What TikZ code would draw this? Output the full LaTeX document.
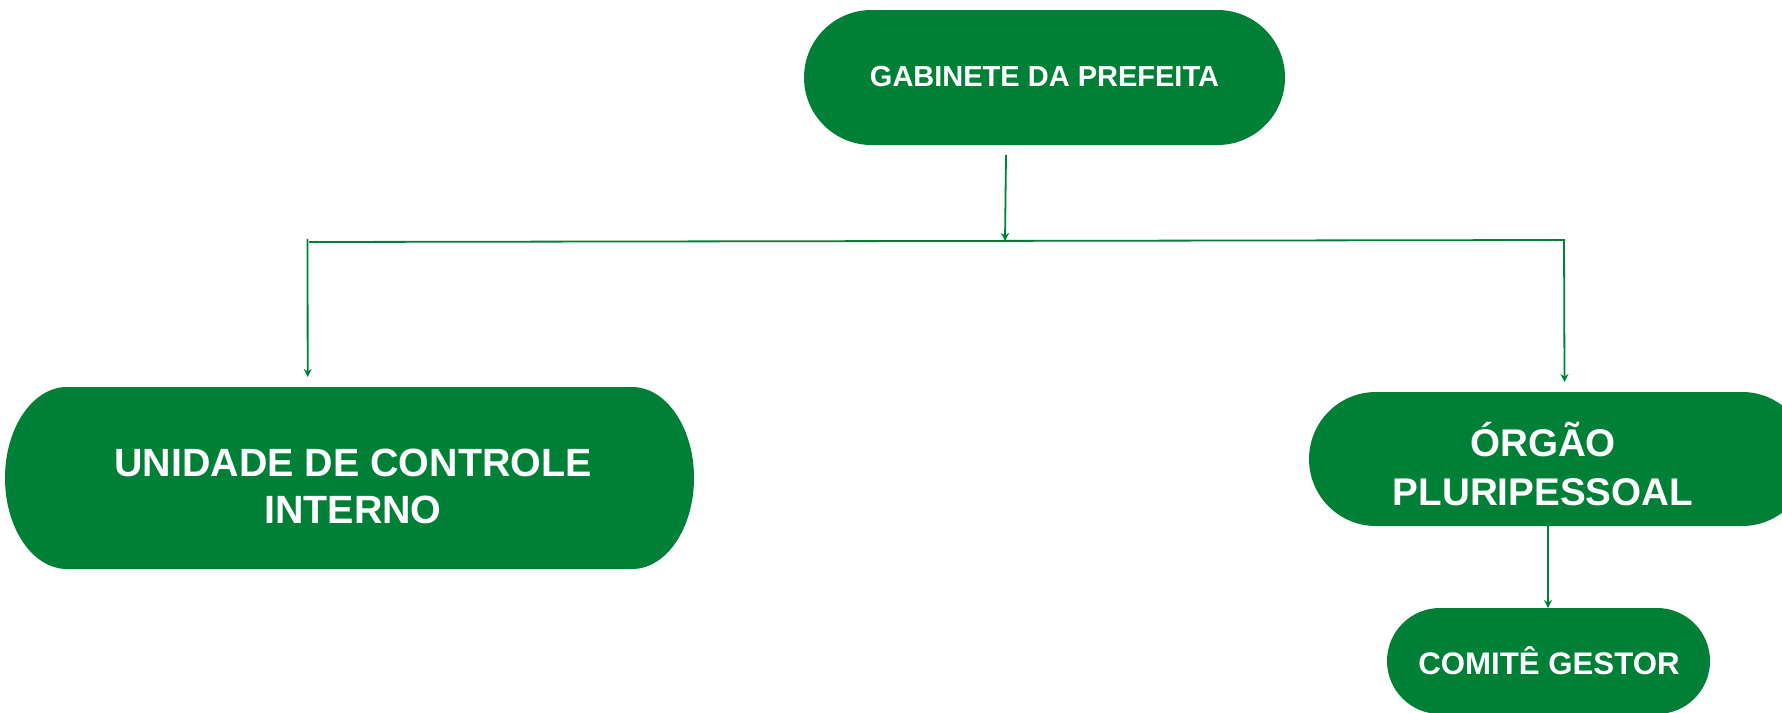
\documentclass[tikz,border=0pt]{standalone}
\usepackage{fontspec}
\setmainfont{Liberation Sans}
\usetikzlibrary{arrows.meta}
\definecolor{govgreen}{RGB}{0,128,55}
\tikzset{
  pill/.style={fill=govgreen, inner sep=0pt, outer sep=0pt},
  lbl/.style={text=white, align=center, inner sep=0pt},
  conn/.style={draw=govgreen, line width=1.8pt},
  arr/.style={conn, -{Stealth[length=8pt,width=8pt]}}
}
\begin{document}
\begin{tikzpicture}[x=1pt,y=-1pt]
\useasboundingbox (0,0) rectangle (1782,712);
\begin{scope}
\clip (0,0) rectangle (1782,712);
% shapes
\node[pill, rounded corners=67.5pt, minimum width=481pt, minimum height=135pt] (gab) at (1044.5,77.5) {};
\fill[govgreen] (67,387) -- (632,387)
  arc[x radius=62pt, y radius=91pt, start angle=90, end angle=-90]
  -- (67,569)
  arc[x radius=62pt, y radius=91pt, start angle=270, end angle=90] -- cycle;
\node[inner sep=0pt, outer sep=0pt, minimum width=689pt, minimum height=182pt] (uci) at (349.5,478) {};
\node[pill, rounded corners=67pt, minimum width=500pt, minimum height=134pt] (org) at (1559,459) {};
\node[pill, rounded corners=53pt, minimum width=323pt, minimum height=106pt] (com) at (1548.5,661) {};
\end{scope}

% labels
\node[lbl, font=\fontsize{29}{34}\selectfont\bfseries] (tgab) at (1044.5,77) {GABINETE DA PREFEITA};
\node[lbl, font=\fontsize{39.4}{47}\selectfont\bfseries] (tuci) at (353,486) {UNIDADE DE CONTROLE\\INTERNO};
\node[lbl, font=\fontsize{38.6}{49}\selectfont\bfseries] (torg) at (1543,464) {ÓRGÃO\\PLURIPESSOAL};
\node[lbl, font=\fontsize{31.2}{36}\selectfont\bfseries] (tcom) at (1549,661) {COMITÊ GESTOR};

% connectors
\coordinate (gabout) at ([yshift=-10pt]gab.south -| 1006,0);
\coordinate (hub) at (1005,241);
\coordinate (hleft) at (309,242);
\coordinate (hright) at (1565,240);
\coordinate (ltop) at (307.5,239);
\coordinate (rtop) at (1564,241);
\draw[arr] (gabout) -- (hub);
\draw[conn] (hleft) -- (hright);
\draw[arr] (ltop) -- ([yshift=10pt]uci.north -| 307.7,0);
\draw[arr] (rtop) -- ([yshift=10pt]org.north -| 1564.5,0);
\draw[arr] (org.south -| 1548,0) -- (com.north -| 1548,0);
\end{tikzpicture}
\end{document}
